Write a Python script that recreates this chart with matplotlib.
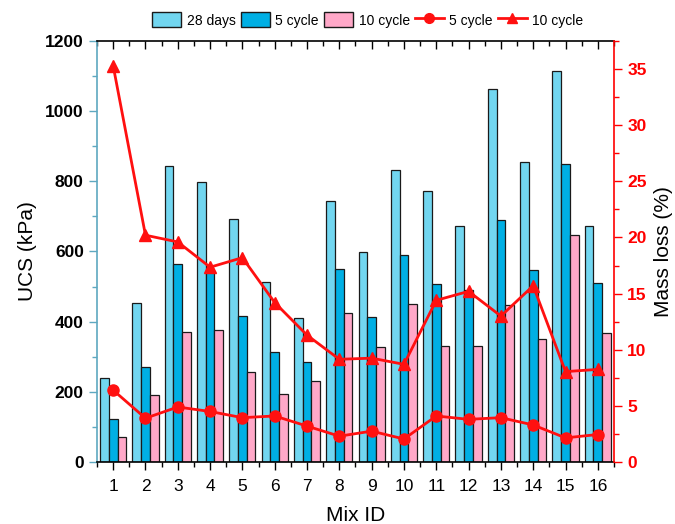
import numpy as np
import matplotlib
matplotlib.use("Agg")
import matplotlib.pyplot as plt
from matplotlib.ticker import MultipleLocator
from matplotlib.patches import Patch
from matplotlib.lines import Line2D

plt.rcParams['font.family'] = ['Liberation Sans', 'DejaVu Sans']

mix_id = list(range(1, 17))
ucs_28d = [240, 452, 844, 798, 693, 513, 410, 745, 598, 831, 771, 674, 1062, 854, 1115, 672]
ucs_5c = [122, 272, 564, 545, 416, 313, 284, 551, 412, 589, 508, 490, 691, 547, 848, 509]
ucs_10c = [71, 190, 371, 375, 257, 195, 230, 424, 329, 449, 332, 331, 447, 350, 646, 369]
loss_5c = [6.4, 3.9, 4.9, 4.5, 3.95, 4.1, 3.2, 2.3, 2.75, 2.05, 4.1, 3.8, 3.95, 3.3, 2.15, 2.45]
loss_10c = [35.3, 20.2, 19.6, 17.35, 18.2, 14.2, 11.3, 9.15, 9.25, 8.7, 14.4, 15.2, 13.0, 15.7, 8.05, 8.25]

c_28 = '#72d6f0'
c_5 = '#00afe4'
c_10 = '#ffa8c8'
spine_left = '#5ea8c0'

fig = plt.figure(figsize=(6.75, 5.24), dpi=100)
ax = fig.add_axes([0.1437, 0.1183, 0.7659, 0.8035])
ax2 = ax.twinx()

x = np.array(mix_id, dtype=float)
w = 0.27
ekw = dict(edgecolor='#1a1a1a', linewidth=0.9)
ax.bar(x - w, ucs_28d, w, color=c_28, **ekw)
ax.bar(x, ucs_5c, w, color=c_5, **ekw)
ax.bar(x + w, ucs_10c, w, color=c_10, **ekw)

ax.set_xlim(0.5, 16.5)
ax.set_ylim(0, 1200)
ax.set_xticks(mix_id)
ax.set_xticklabels([str(i) for i in mix_id], fontsize=12.5)
ax.xaxis.set_minor_locator(MultipleLocator(0.5))
ax.yaxis.set_major_locator(MultipleLocator(200))
ax.yaxis.set_minor_locator(MultipleLocator(100))
ax.tick_params(axis='x', which='major', direction='out', length=6, width=1, top=True, pad=6)
ax.tick_params(axis='x', which='minor', direction='out', length=3.5, width=1, top=True)
ax.tick_params(axis='y', which='major', length=6, width=1, color=spine_left, labelsize=12.5)
ax.tick_params(axis='y', which='minor', length=3.5, width=1, color=spine_left)
for lab in ax.get_yticklabels():
    lab.set_fontweight('bold')
ax.spines['left'].set_color(spine_left)
ax.spines['left'].set_linewidth(1.2)
ax.spines['top'].set_linewidth(1.2)
ax.spines['bottom'].set_linewidth(1.2)
ax.spines['right'].set_visible(False)
ax.set_ylabel('UCS (kPa)', fontsize=15, labelpad=6)
ax.set_xlabel('Mix ID', fontsize=15, labelpad=9)

# top x ticks point inward
for t in ax.xaxis.get_major_ticks() + ax.xaxis.get_minor_ticks():
    t.tick2line.set_marker(3)

ax2.plot(x, loss_5c, color='#ff1010', lw=2, marker='o', ms=8)
ax2.plot(x, loss_10c, color='#ff1010', lw=2, marker='^', ms=8.5)
ax2.set_ylim(0, 37.5)
ax2.yaxis.set_major_locator(MultipleLocator(5))
ax2.yaxis.set_minor_locator(MultipleLocator(2.5))
ax2.tick_params(axis='y', which='major', length=6, width=1, color='red', labelcolor='red', labelsize=12.5)
ax2.tick_params(axis='y', which='minor', length=3.5, width=1, color='red')
for lab in ax2.get_yticklabels():
    lab.set_fontweight('bold')
ax2.spines['right'].set_color('red')
ax2.spines['right'].set_linewidth(1.2)
for s in ('left', 'top', 'bottom'):
    ax2.spines[s].set_visible(False)
ax2.set_ylabel('Mass loss (%)', fontsize=15, labelpad=5)

handles = [
    Patch(facecolor=c_28, edgecolor='#1a1a1a', label='28 days'),
    Patch(facecolor=c_5, edgecolor='#1a1a1a', label='5 cycle'),
    Patch(facecolor=c_10, edgecolor='#1a1a1a', label='10 cycle'),
    Line2D([], [], color='#ff1010', lw=2, marker='o', ms=7, label='5 cycle'),
    Line2D([], [], color='#ff1010', lw=2, marker='^', ms=7, label='10 cycle'),
]
fig.legend(handles=handles, loc='center', bbox_to_anchor=(0.545, 0.962), ncol=5,
           frameon=False, fontsize=10, handlelength=2.1, handleheight=1.3,
           handletextpad=0.4, columnspacing=0.35, borderaxespad=0)

fig.savefig('out.png', dpi=100)
